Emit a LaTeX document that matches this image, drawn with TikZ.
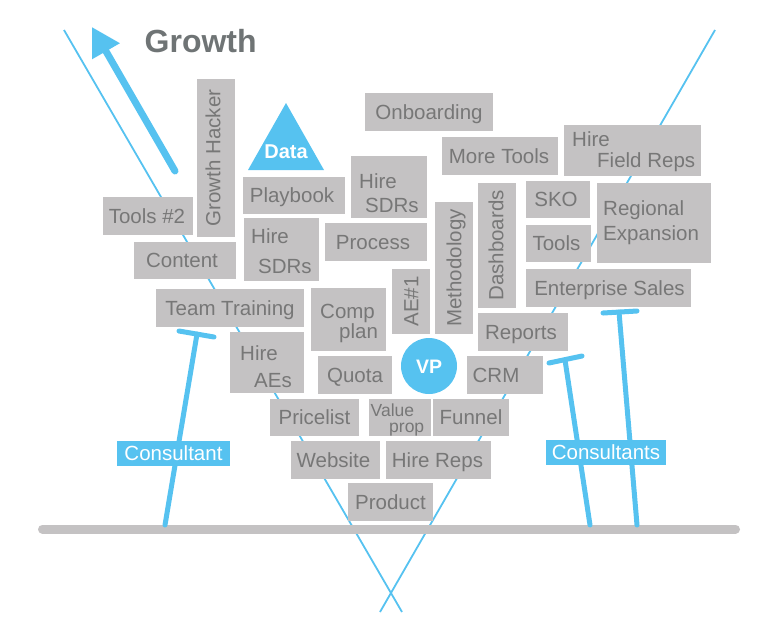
\documentclass[tikz,border=0pt]{standalone}
\usepackage{fontspec}
\setmainfont{Liberation Sans}
\usetikzlibrary{arrows.meta,fit}
\definecolor{bblue}{HTML}{56C2F0}
\definecolor{bgray}{HTML}{C4C2C3}
\definecolor{tgray}{HTML}{777777}
\definecolor{ggray}{HTML}{6F7475}
\tikzset{
  gbox/.style={fill=bgray, draw=none, inner sep=0pt},
  txt/.style={text=tgray, inner sep=0pt, font=\fontsize{20.5}{24}\selectfont},
  ctxt/.style={txt, text height=14.7pt, text depth=0pt},
  btxt/.style={txt, anchor=base west},
  vline/.style={bblue, line width=1.8pt},
  tline/.style={bblue, line width=5pt, line cap=round},
  groundbar/.style={bgray, line width=9pt, line cap=round},
  blabel/.style={fill=bblue, text=white, inner sep=0pt, font=\fontsize{20.5}{24}\selectfont,
    text height=14.7pt, text depth=0pt, minimum height=25pt},
  wbold/.style={text=white, inner sep=0pt, font=\bfseries\fontsize{20}{24}\selectfont,
    text height=14.3pt, text depth=0pt}
}
\newcommand\gbx[5]{\node[gbox, fit={(#2,#3) (#4,#5)}] (#1) {};}
\begin{document}
\begin{tikzpicture}[x=1pt, y=-1pt]
\useasboundingbox (0,0) rectangle (781,625);
% V lines
\coordinate (vl1) at (64,30);
\coordinate (vl2) at (402,612);
\coordinate (vr1) at (715,30);
\coordinate (vr2) at (380,612);
\draw[vline] (vl1) -- (vl2);
\draw[vline] (vr1) -- (vr2);
% ground
\coordinate (g1) at (42.5,529);
\coordinate (g2) at (735.5,529);
\draw[groundbar] (g1) -- (g2);
% Growth
\node[anchor=base west, inner sep=0pt, text=ggray, font=\bfseries\fontsize{32}{36}\selectfont] (growth) at (144.5,52.5) {Growth};
\coordinate (ga1) at (175,171);
\coordinate (ga2) at (92,27);
\draw[bblue, line width=7pt, line cap=round, -{Triangle[length=28pt,width=30pt]}] (ga1) -- (ga2);
% Data triangle
\coordinate (d1) at (286,103);
\coordinate (d2) at (248,170);
\coordinate (d3) at (324,170);
\fill[bblue] (d1) -- (d2) -- (d3) -- cycle;
\node[wbold] (data) at (286,151.5) {Data};
% single-line boxes
\gbx{onb}{365}{93}{493}{131}
\node[ctxt] (onb-t) at (onb) {Onboarding};
\gbx{more}{442}{137}{558}{175}
\node[ctxt] (more-t) at ([xshift=-1pt]more.center) {More Tools};
\gbx{play}{243}{177}{345}{214}
\node[ctxt] (play-t) at ([xshift=-2pt]play.center) {Playbook};
\gbx{toolsb}{103}{197}{193}{235}
\node[ctxt] (toolsb-t) at ([xshift=-1pt]toolsb.center) {Tools \#2};
\gbx{content}{134}{242}{236}{279}
\node[ctxt] (content-t) at ([xshift=-3pt]content.center) {Content};
\gbx{process}{325}{223}{427}{261}
\node[ctxt] (process-t) at ([xshift=-3pt]process.center) {Process};
\gbx{sko}{526}{181}{590}{218}
\node[ctxt] (sko-t) at ([xshift=-2pt]sko.center) {SKO};
\gbx{tools}{526}{225}{591}{262}
\node[ctxt] (tools-t) at ([xshift=-2pt]tools.center) {Tools};
\gbx{ent}{526}{269}{691}{307}
\node[ctxt] (ent-t) at ([xshift=1pt]ent.center) {Enterprise Sales};
\gbx{reports}{478}{313}{568}{351}
\node[ctxt] (reports-t) at ([xshift=-2pt]reports.center) {Reports};
\gbx{team}{156}{289}{304}{327}
\node[ctxt] (team-t) at (team) {Team Training};
\gbx{quota}{318}{356}{392}{394}
\node[ctxt] (quota-t) at (quota) {Quota};
\gbx{crm}{467}{356}{543}{394}
\node[ctxt] (crm-t) at ([xshift=-9pt]crm.center) {CRM};
\gbx{price}{270}{399}{359}{436}
\node[ctxt] (price-t) at (price) {Pricelist};
\gbx{funnel}{433}{399}{509}{436}
\node[ctxt] (funnel-t) at (funnel) {Funnel};
\gbx{web}{291}{441}{380}{479}
\node[ctxt] (web-t) at ([xshift=-2pt]web.center) {Website};
\gbx{hreps}{386}{441}{491}{479}
\node[ctxt] (hreps-t) at ([xshift=-1pt]hreps.center) {Hire Reps};
\gbx{product}{348}{483}{433}{521}
\node[ctxt] (product-t) at (product) {Product};
% rotated boxes
\gbx{gh}{197}{79}{235}{237}
\node[ctxt, rotate=90] (gh-t) at ([xshift=-3pt]gh.center) {Growth Hacker};
\gbx{meth}{435}{202}{473}{334}
\node[ctxt, rotate=90] (meth-t) at (meth) {Methodology};
\gbx{dash}{478}{183}{516}{308}
\node[ctxt, rotate=90] (dash-t) at ([xshift=-1pt]dash.center) {Dashboards};
\gbx{ae}{392}{269}{430}{334}
\node[ctxt, rotate=90] (ae-t) at (ae) {AE\#1};
% multi-line boxes
\gbx{sdrl}{244}{218}{319}{281}
\node[btxt] (sdrl-a) at (251,243.5) {Hire};
\node[btxt] (sdrl-b) at (258,273.5) {SDRs};
\gbx{sdrt}{351}{156}{427}{218}
\node[btxt] (sdrt-a) at (359,188) {Hire};
\node[btxt] (sdrt-b) at (365,212) {SDRs};
\gbx{field}{564}{125}{701}{176}
\node[btxt] (field-a) at (572,146) {Hire};
\node[btxt] (field-b) at (597,167) {Field Reps};
\gbx{reg}{597}{183}{711}{263}
\node[btxt] (reg-a) at (603,215) {Regional};
\node[btxt] (reg-b) at (603,240) {Expansion};
\gbx{comp}{311}{288}{386}{351}
\node[btxt] (comp-a) at (320,318) {Comp};
\node[btxt] (comp-b) at (339,338) {plan};
\gbx{aes}{230}{332}{304}{393}
\node[btxt] (aes-a) at (240,360) {Hire};
\node[btxt] (aes-b) at (254,387) {AEs};
\gbx{value}{369}{399}{431}{436}
\node[btxt, font=\fontsize{17.5}{20}\selectfont] (value-a) at (370.5,416.5) {Value};
\node[btxt, font=\fontsize{17.5}{20}\selectfont] (value-b) at (389,432.5) {prop};
% VP
\node[circle, fill=bblue, minimum size=56pt, inner sep=0pt, text=white,
  font=\bfseries\fontsize{19.5}{22}\selectfont, text height=14pt, text depth=0pt] (vp) at (429,366) {VP};
% consultant T shapes
\coordinate (t1a) at (179,331);
\coordinate (t1b) at (214,337);
\coordinate (t1s) at (165,525);
\coordinate (t1t) at (197,334);
\draw[tline] (t1a) -- (t1b);
\draw[tline] (t1s) -- (t1t);
\coordinate (t2a) at (549,363);
\coordinate (t2b) at (582,356);
\coordinate (t2s) at (590,525);
\coordinate (t2t) at (565,360);
\draw[tline] (t2a) -- (t2b);
\draw[tline] (t2s) -- (t2t);
\coordinate (t3a) at (603,313);
\coordinate (t3b) at (637,311);
\coordinate (t3s) at (637,525);
\coordinate (t3t) at (619,312);
\draw[tline] (t3a) -- (t3b);
\draw[tline] (t3s) -- (t3t);
% labels
\node[blabel, minimum width=113pt] (cons1) at (173.5,453.5) {Consultant};
\node[blabel, minimum width=120pt] (cons2) at (606,452.5) {Consultants};
\end{tikzpicture}
\end{document}
